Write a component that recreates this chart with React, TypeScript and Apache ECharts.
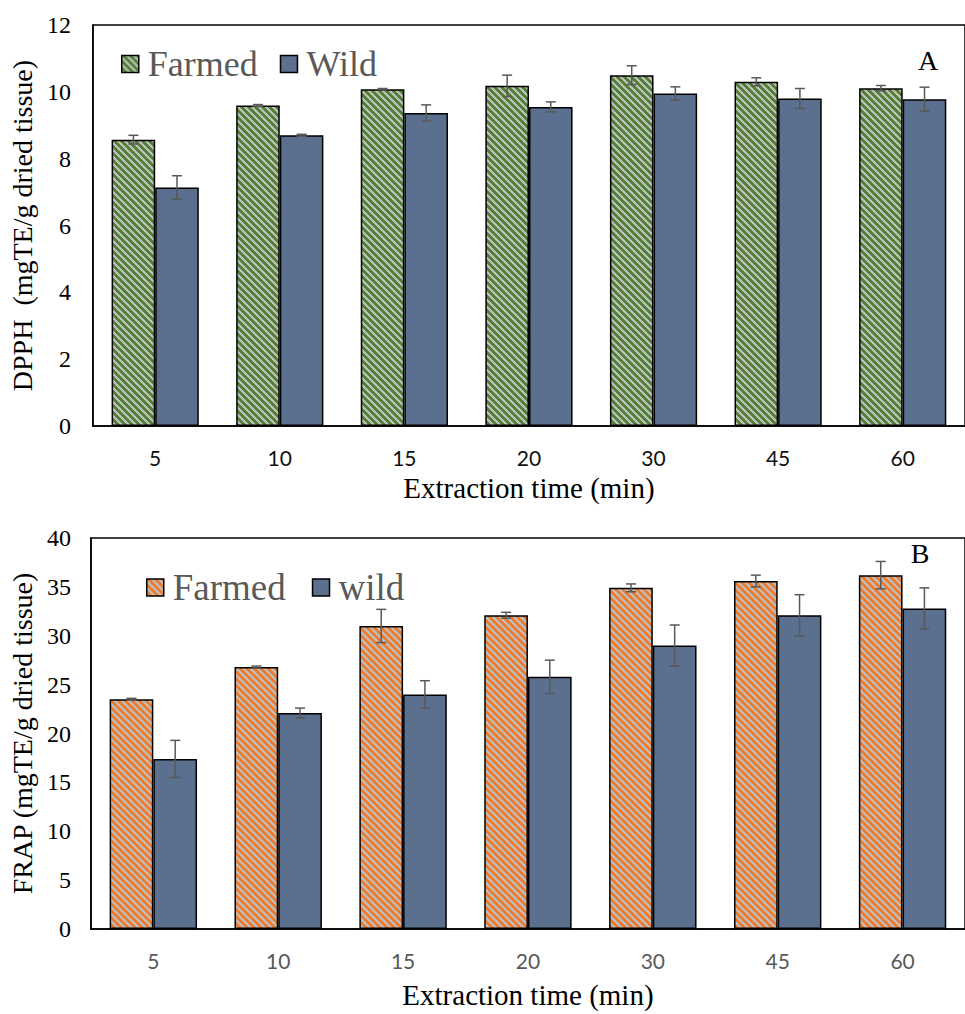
import React, { useEffect, useRef } from 'react';
import * as echarts from 'echarts';

const categories = ['5', '10', '15', '20', '30', '45', '60'];

const dpphFarmed = [8.57, 9.59, 10.08, 10.18, 10.5, 10.3, 10.11];
const dpphFarmedErr = [0.13, 0.03, 0.02, 0.32, 0.28, 0.12, 0.08];
const dpphWild = [7.14, 8.7, 9.37, 9.55, 9.95, 9.8, 9.78];
const dpphWildErr = [0.35, 0.03, 0.24, 0.15, 0.2, 0.3, 0.36];
const dpphTicks = { min: 0, max: 12, interval: 2 };

const frapFarmed = [23.5, 26.8, 31.0, 32.1, 34.9, 35.6, 36.2];
const frapFarmedErr = [0.1, 0.1, 1.7, 0.3, 0.4, 0.6, 1.4];
const frapWild = [17.4, 22.1, 24.0, 25.8, 29.0, 32.1, 32.8];
const frapWildErr = [1.9, 0.5, 1.4, 1.7, 2.1, 2.1, 2.1];
const frapTicks = { min: 0, max: 40, interval: 5 };

const SERIF = '"Liberation Serif", "Times New Roman", serif';
const SANS = 'Lato, "Open Sans", sans-serif';
const WILD_COLOR = '#5b6f8f';
const ERR_COLOR = '#595959';
const TILE = 7;

function stripeCanvas(c1: [number, number, number], c2: [number, number, number]) {
  const n = TILE;
  const cv = document.createElement('canvas');
  cv.width = n;
  cv.height = n;
  const ctx = cv.getContext('2d')!;
  const img = ctx.createImageData(n, n);
  for (let y = 0; y < n; y++) {
    for (let x = 0; x < n; x++) {
      const k = (((x - y) % n) + n) % n;
      const c = k < 4 ? c1 : c2;
      const i = (y * n + x) * 4;
      img.data[i] = c[0];
      img.data[i + 1] = c[1];
      img.data[i + 2] = c[2];
      img.data[i + 3] = 255;
    }
  }
  ctx.putImageData(img, 0, 0);
  return cv;
}

function errSeries(values: number[], errs: number[], side: number) {
  return {
    type: 'custom',
    silent: true,
    z: 10,
    encode: { x: 0, y: 1 },
    data: values.map((v, i) => [i, v, errs[i]]),
    renderItem: (params: any, api: any) => {
      const idx = api.value(0);
      const v = api.value(1);
      const e = api.value(2);
      const band = api.size([1, 0])[0];
      const barW = (band * 0.7) / 2;
      const top = api.coord([idx, v + e]);
      const bot = api.coord([idx, v - e]);
      const x = top[0] + (side * barW) / 2;
      const cap = 5;
      const style = { stroke: ERR_COLOR, lineWidth: 1.5 };
      return {
        type: 'group',
        children: [
          { type: 'line', shape: { x1: x, y1: top[1], x2: x, y2: bot[1] }, style },
          { type: 'line', shape: { x1: x - cap, y1: top[1], x2: x + cap, y2: top[1] }, style },
          { type: 'line', shape: { x1: x - cap, y1: bot[1], x2: x + cap, y2: bot[1] }, style },
        ],
      };
    },
  };
}

function buildOption(cfg: any) {
  const farmedPattern = {
    image: cfg.pattern,
    repeat: 'repeat',
    imageWidth: TILE,
    imageHeight: TILE,
  };
  return {
    animation: false,
    backgroundColor: '#ffffff',
    grid: {
      left: cfg.gridLeft,
      right: cfg.gridRight,
      top: cfg.gridTop,
      bottom: cfg.gridBottom,
      show: true,
      borderColor: '#000',
      borderWidth: 1.5,
      backgroundColor: 'transparent',
    },
    legend: {
      data: [cfg.farmedName, cfg.wildName],
      left: cfg.legendLeft,
      top: cfg.legendTop,
      icon: 'rect',
      itemWidth: 17,
      itemHeight: 17,
      itemGap: cfg.legendGap,
      itemStyle: { borderColor: '#000', borderWidth: 1.5 },
      textStyle: {
        fontFamily: SERIF,
        fontSize: cfg.legendFont,
        color: '#595959',
        padding: [0, 0, 0, 4],
      },
    },
    xAxis: {
      type: 'category',
      data: categories,
      name: 'Extraction time (min)',
      nameLocation: 'middle',
      nameGap: cfg.xNameGap,
      nameTextStyle: { fontFamily: SERIF, fontSize: 29, color: '#000' },
      axisLine: { lineStyle: { color: '#000', width: 1.5 } },
      axisTick: { show: false },
      axisLabel: {
        fontFamily: SANS,
        fontSize: 21,
        color: cfg.xLabelColor,
        margin: cfg.xLabelMargin,
      },
    },
    yAxis: {
      type: 'value',
      min: cfg.ticks.min,
      max: cfg.ticks.max,
      interval: cfg.ticks.interval,
      name: cfg.yName,
      nameLocation: 'middle',
      nameGap: cfg.yNameGap,
      nameTextStyle: { fontFamily: SERIF, fontSize: 28, color: '#000' },
      axisLine: { show: true, lineStyle: { color: '#000', width: 1.5 } },
      axisTick: { show: false },
      splitLine: { show: false },
      axisLabel: {
        fontFamily: SERIF,
        fontSize: 24,
        color: '#000',
        margin: cfg.yLabelMargin,
      },
    },
    series: [
      {
        name: cfg.farmedName,
        type: 'bar',
        data: cfg.farmed,
        barGap: '0%',
        barCategoryGap: '30%',
        itemStyle: { color: farmedPattern, borderColor: '#000', borderWidth: 1.5 },
      },
      {
        name: cfg.wildName,
        type: 'bar',
        data: cfg.wild,
        barGap: '0%',
        barCategoryGap: '30%',
        itemStyle: { color: WILD_COLOR, borderColor: '#000', borderWidth: 1.5 },
      },
      errSeries(cfg.farmed, cfg.farmedErr, -1),
      errSeries(cfg.wild, cfg.wildErr, 1),
    ],
    graphic: [
      {
        type: 'text',
        x: cfg.tagX,
        y: cfg.tagY,
        style: {
          text: cfg.tag,
          font: `28px ${SERIF}`,
          fill: '#000',
          textAlign: 'center',
          textVerticalAlign: 'middle',
        },
      },
    ],
  };
}

function Chart({ cfg }: { cfg: any }) {
  const ref = useRef<HTMLDivElement>(null);
  useEffect(() => {
    if (!ref.current) return;
    const chart = echarts.init(ref.current, undefined, { renderer: 'svg' });
    const pattern = stripeCanvas(cfg.c1, cfg.c2);
    chart.setOption(buildOption({ ...cfg, pattern }) as any);
    return () => chart.dispose();
  }, []);
  return <div ref={ref} style={{ width: 965, height: 507 }} />;
}

const cfgA = {
  farmedName: 'Farmed',
  wildName: 'Wild',
  farmed: dpphFarmed,
  farmedErr: dpphFarmedErr,
  wild: dpphWild,
  wildErr: dpphWildErr,
  ticks: dpphTicks,
  yName: 'DPPH  (mgTE/g dried tissue)',
  c1: [84, 130, 53],
  c2: [190, 190, 190],
  gridLeft: 90.5,
  gridRight: -5,
  gridTop: 25,
  gridBottom: 80,
  legendLeft: 116,
  legendTop: 41,
  legendGap: 22,
  legendFont: 36,
  xNameGap: 46,
  yNameGap: 53,
  xLabelMargin: 21,
  yLabelMargin: 22,
  xLabelColor: '#111',
  tag: 'A',
  tagX: 928,
  tagY: 60,
};

const cfgB = {
  farmedName: 'Farmed',
  wildName: 'wild',
  farmed: frapFarmed,
  farmedErr: frapFarmedErr,
  wild: frapWild,
  wildErr: frapWildErr,
  ticks: frapTicks,
  yName: 'FRAP (mgTE/g dried tissue)',
  c1: [237, 125, 49],
  c2: [190, 190, 190],
  gridLeft: 87,
  gridRight: -7,
  gridTop: 31,
  gridBottom: 83,
  legendLeft: 141,
  legendTop: 57,
  legendGap: 26,
  legendFont: 37,
  xNameGap: 51,
  yNameGap: 51,
  xLabelMargin: 21,
  yLabelMargin: 20,
  xLabelColor: '#595959',
  tag: 'B',
  tagX: 920,
  tagY: 46,
};

export default function App() {
  return (
    <div style={{ position: 'absolute', left: 0, top: 0, width: 965, height: 1014, background: '#fff' }}>
      <Chart cfg={cfgA} />
      <Chart cfg={cfgB} />
    </div>
  );
}
